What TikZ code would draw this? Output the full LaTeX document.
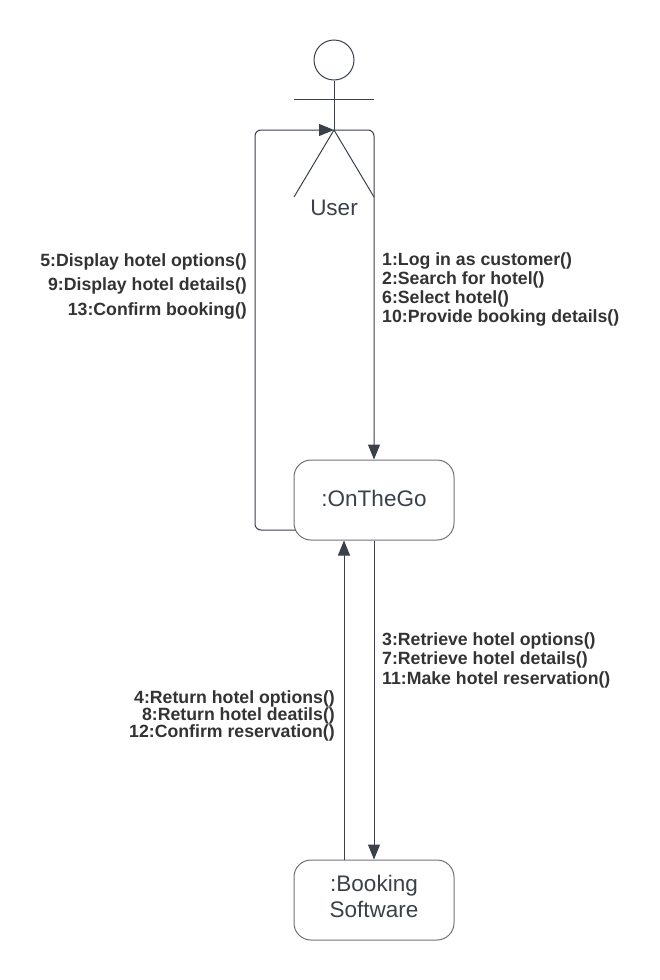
\documentclass[tikz,border=0pt]{standalone}
\usepackage{fontspec}
\setmainfont{Liberation Sans}
\usepackage{xcolor}
\usetikzlibrary{arrows.meta,positioning,calc}
\definecolor{inkdark}{HTML}{3A414A}
\definecolor{edgegray}{HTML}{6F747A}
\tikzset{
  obj/.style={rectangle, rounded corners=17pt, draw=edgegray, fill=white, line width=1pt,
    minimum height=80pt, minimum width=160pt, align=center, text=inkdark,
    font=\fontsize{22.5}{26}\selectfont},
  msg/.style={inner sep=0pt, text=black!80, font=\fontsize{17.7}{19.3}\selectfont\bfseries},
  arr/.style={-{Triangle[length=15pt,width=12pt]}, draw=inkdark, line width=1pt, rounded corners=6pt},
  stick/.style={draw=inkdark, line width=1pt},
}
\begin{document}
\begin{tikzpicture}[x=1pt,y=-1pt]
  \useasboundingbox[fill=white] (0,0) rectangle (659,980);
  % actor
  \node[circle, draw=inkdark, line width=1pt, minimum size=40pt, inner sep=0pt] (head) at (334,60) {};
  \coordinate (hip) at (334,130);
  \draw[stick] (head.south) -- (hip);
  \draw[stick] (294,99) -- (374,99);
  \draw[stick] (294,197) -- (hip) -- (374,197);
  \node[text=inkdark, font=\fontsize{22.5}{26}\selectfont] (user) at (334,208) {User};
  % objects
  \node[obj, text depth=3pt] (go) at (374,500) {:OnTheGo};
  \node[obj, text depth=7pt] (soft) at (374,900) {:Booking\\Software};
  % messages
  \coordinate (goleft) at (295.5,530);
  \draw[arr] (goleft) -- (255,530) -- (255,130) -- (hip);
  \draw[arr] (hip) -- (374,130) -- (go.north);
  \draw[arr] (soft.north -| 344,0) -- (go.south -| 344,0);
  \draw[arr] (go.south) -- (soft.north);
  % labels
  \node[msg, align=right, anchor=north east] (up) at (247,253) {5:Display hotel options()\\[5.5pt]9:Display hotel details()\\[5.5pt]13:Confirm booking()};
  \node[msg, align=left, anchor=north west] (down) at (382,252) {1:Log in as customer()\\2:Search for hotel()\\6:Select hotel()\\10:Provide booking details()};
  \node[msg, align=left, anchor=north west] (ask) at (382,632.5) {3:Retrieve hotel options()\\7:Retrieve hotel details()\\11:Make hotel reservation()};
  \node[msg, align=right, anchor=north east] (back) at (335,690) {4:Return hotel options()\\[-1.5pt]8:Return hotel deatils()\\[-2.5pt]12:Confirm reservation()};
\end{tikzpicture}
\end{document}
